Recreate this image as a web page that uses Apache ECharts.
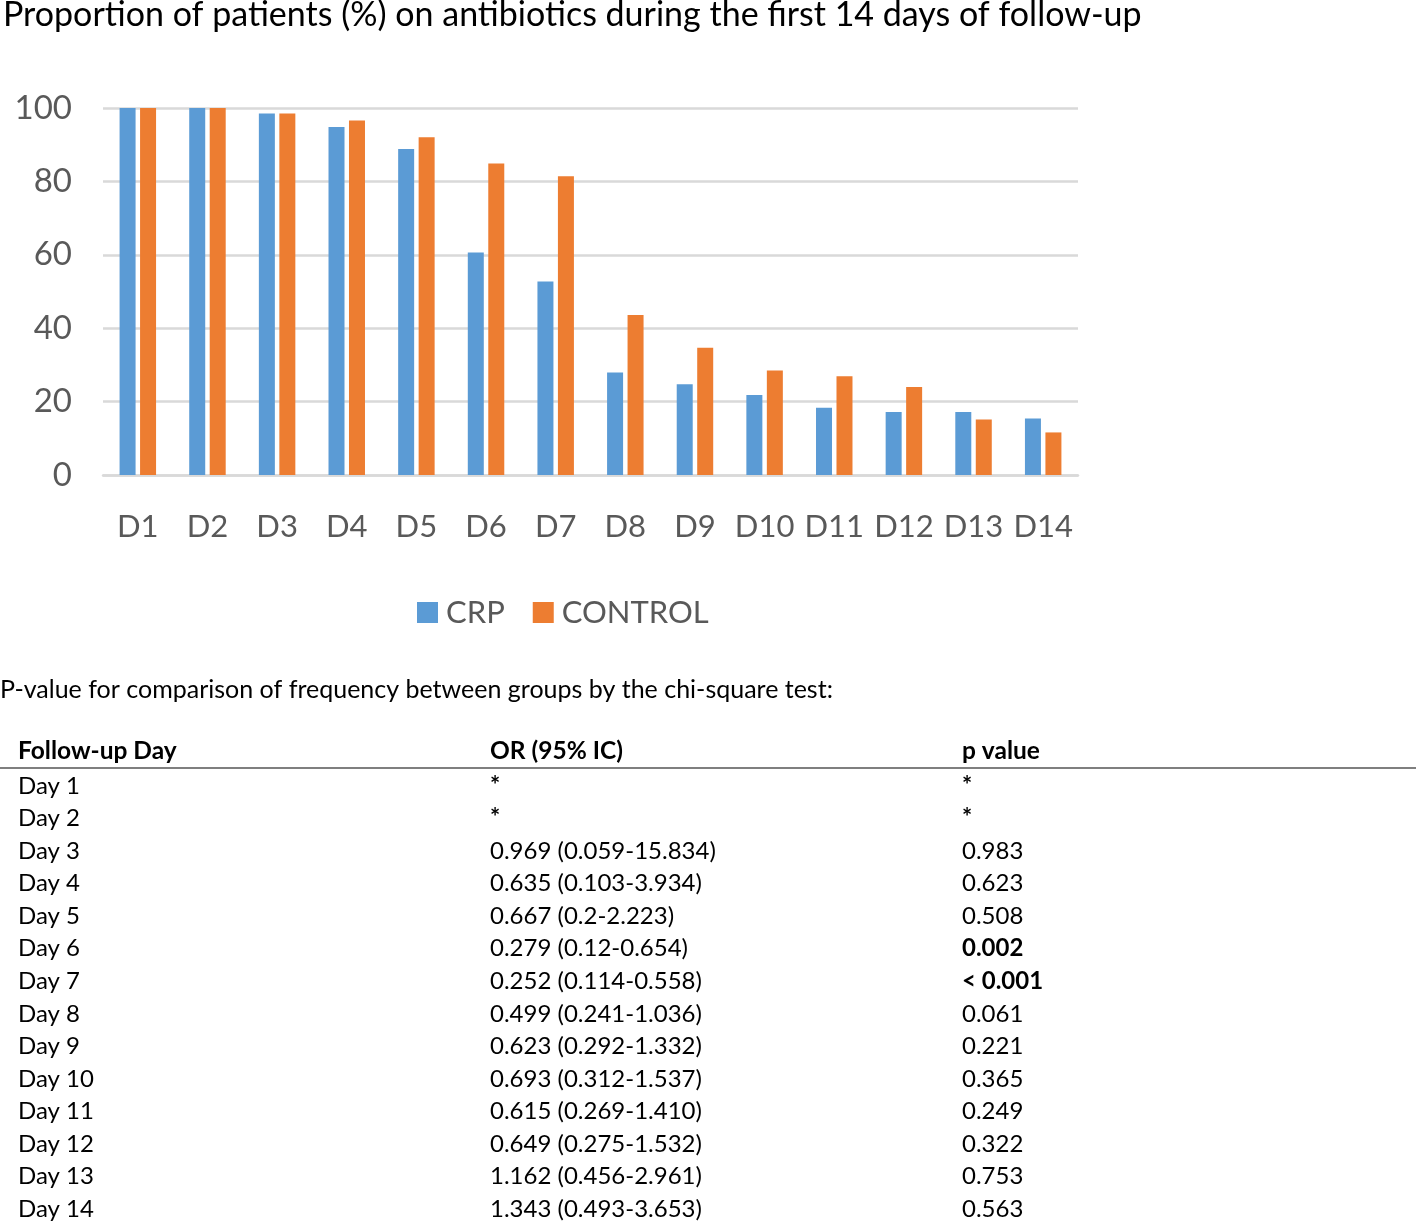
<!DOCTYPE html>
<html>
<head>
<meta charset="utf-8">
<script src="https://cdn.jsdelivr.net/npm/echarts@6/dist/echarts.min.js"></script>
<style>
html,body{margin:0;padding:0;background:#fff;}
#chart{width:1416px;height:1223px;}
</style>
</head>
<body>
<div id="chart"></div>
<script>
const titleText = 'Proportion of patients (%) on antibiotics during the first 14 days of follow-up';
const categories = ['D1','D2','D3','D4','D5','D6','D7','D8','D9','D10','D11','D12','D13','D14'];
const crpValues = [100, 100, 98.5, 94.8, 88.8, 60.6, 52.7, 27.9, 24.7, 21.8, 18.3, 17.2, 17.2, 15.4];
const controlValues = [100, 100, 98.5, 96.6, 92.0, 84.9, 81.4, 43.6, 34.7, 28.5, 26.9, 24.0, 15.1, 11.6];
const seriesNames = ['CRP', 'CONTROL'];

const tableNote = 'P-value for comparison of frequency between groups by the chi-square test:';
const tableHeaders = ['Follow-up Day', 'OR (95% IC)', 'p value'];
const tableDays = ['Day 1','Day 2','Day 3','Day 4','Day 5','Day 6','Day 7','Day 8','Day 9','Day 10','Day 11','Day 12','Day 13','Day 14'];
const tableOR = ['*','*','0.969 (0.059-15.834)','0.635 (0.103-3.934)','0.667 (0.2-2.223)','0.279 (0.12-0.654)','0.252 (0.114-0.558)','0.499 (0.241-1.036)','0.623 (0.292-1.332)','0.693 (0.312-1.537)','0.615 (0.269-1.410)','0.649 (0.275-1.532)','1.162 (0.456-2.961)','1.343 (0.493-3.653)'];
const tableP = ['*','*','0.983','0.623','0.508','0.002','< 0.001','0.061','0.221','0.365','0.249','0.322','0.753','0.563'];
const tablePBold = [false,false,false,false,false,true,true,false,false,false,false,false,false,false];

const FONT = 'Lato, "Noto Sans", sans-serif';
const chart = echarts.init(document.getElementById('chart'), null, {renderer:'canvas'});

const colX = [18, 490, 962];
const rowY0 = 786, rowStep = 32.55;
const graphics = [];
graphics.push({type:'text', x:0, y:690, style:{text:tableNote, font:'25px ' + FONT, fill:'#000', textVerticalAlign:'middle'}});
tableHeaders.forEach((h,i)=>{
  graphics.push({type:'text', x:colX[i], y:751, style:{text:h, font:'bold 24.5px ' + FONT, fill:'#000', textVerticalAlign:'middle'}});
});
graphics.push({type:'line', shape:{x1:0, y1:768, x2:1416, y2:768}, style:{stroke:'#7f7f7f', lineWidth:2}});
tableDays.forEach((d,i)=>{
  const y = rowY0 + i*rowStep;
  const orBold = tableOR[i] === '*';
  graphics.push({type:'text', x:colX[0], y:y, style:{text:d, font:'24px ' + FONT, fill:'#000', textVerticalAlign:'middle'}});
  graphics.push({type:'text', x:colX[1], y:y, style:{text:tableOR[i], font:(orBold?'bold ':'') + '24px ' + FONT, fill:'#000', textVerticalAlign:'middle'}});
  graphics.push({type:'text', x:colX[2], y:y, style:{text:tableP[i], font:((tablePBold[i]||tableP[i]==='*')?'bold ':'') + '24px ' + FONT, fill:'#000', textVerticalAlign:'middle'}});
});

chart.setOption({
  animation:false,
  title:{text:titleText, left:-2, top:-7, textStyle:{fontFamily:FONT, fontSize:34, fontWeight:'normal', color:'#000'}},
  legend:{
    data:seriesNames, left:412, top:592, itemWidth:21, itemHeight:21, itemGap:28,
    icon:'rect',
    textStyle:{fontFamily:FONT, fontSize:31, color:'#595959', padding:[0,0,0,3]}
  },
  grid:{left:103, right:338, top:108, bottom:748, containLabel:false},
  xAxis:{
    type:'category', data:categories,
    axisLine:{show:true, lineStyle:{color:'#d9d9d9', width:2.5}},
    axisTick:{show:false},
    axisLabel:{interval:0, fontFamily:FONT, fontSize:31, color:'#595959', margin:36}
  },
  yAxis:{
    type:'value', min:0, max:100, interval:20,
    axisLine:{show:false}, axisTick:{show:false},
    splitLine:{lineStyle:{color:'#d9d9d9', width:2.5}},
    axisLabel:{fontFamily:FONT, fontSize:33, color:'#595959', margin:31}
  },
  series:[
    {name:seriesNames[0], type:'bar', data:crpValues, barWidth:16, barGap:'28%', itemStyle:{color:'#5b9bd5'}},
    {name:seriesNames[1], type:'bar', data:controlValues, barWidth:16, barGap:'28%', itemStyle:{color:'#ed7d31'}}
  ],
  graphic:graphics
});
</script>
</body>
</html>
